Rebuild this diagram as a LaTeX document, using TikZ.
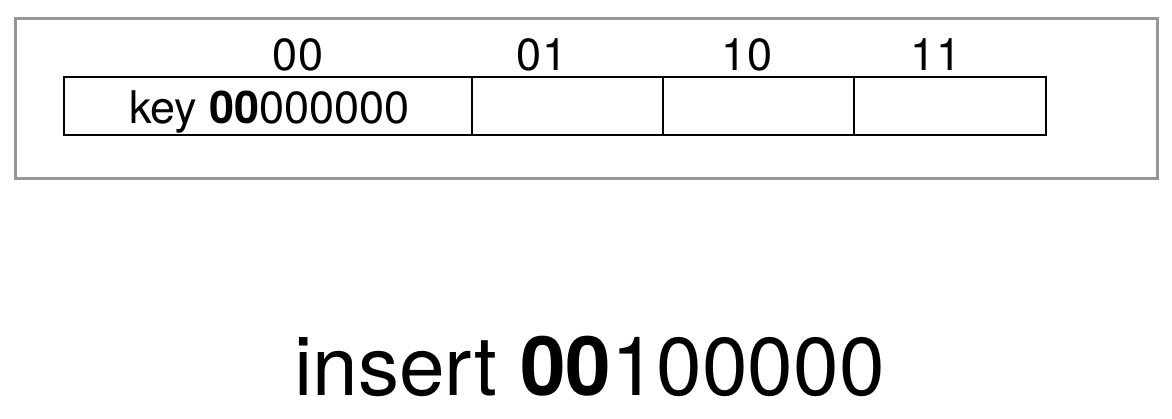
\documentclass[tikz,border=0pt]{standalone}
\usepackage{fontspec}
\setmainfont{TeX Gyre Heros}
\definecolor{framegray}{RGB}{150,150,150}
\begin{document}
\begin{tikzpicture}[x=1pt,y=-1pt,
  frame/.style={draw=framegray,line width=3pt,inner sep=0pt,anchor=north west},
  cell/.style={draw=black,line width=2pt,inner sep=0pt,anchor=north west,minimum height=58pt},
  lbl/.style={inner sep=0pt,anchor=base,font=\fontsize{45}{54}\selectfont},
  big/.style={inner sep=0pt,anchor=base,font=\fontsize{82}{98}\selectfont}]
\useasboundingbox (0,0) rectangle (1172,418);
\node[frame,minimum width=1142pt,minimum height=160pt] (frame) at (13.5,16.5) {};
\node[cell,minimum width=408pt] (c1) at (63,76) {};
\node[cell,minimum width=191pt] (c2) at (471,76) {};
\node[cell,minimum width=191pt] (c3) at (662,76) {};
\node[cell,minimum width=192pt] (c4) at (853,76) {};
\node[lbl] (l00) at (298,70) {00};
\node[lbl] (l01) at (542,70) {01};
\node[lbl] (l10) at (747,70) {10};
\node[lbl] (l11) at (936,70) {11};
\node[lbl] (key) at (269.5,123) {key \textbf{00}000000};
\node[big] (ins) at (589.5,395) {insert \textbf{00}100000};
\end{tikzpicture}
\end{document}
